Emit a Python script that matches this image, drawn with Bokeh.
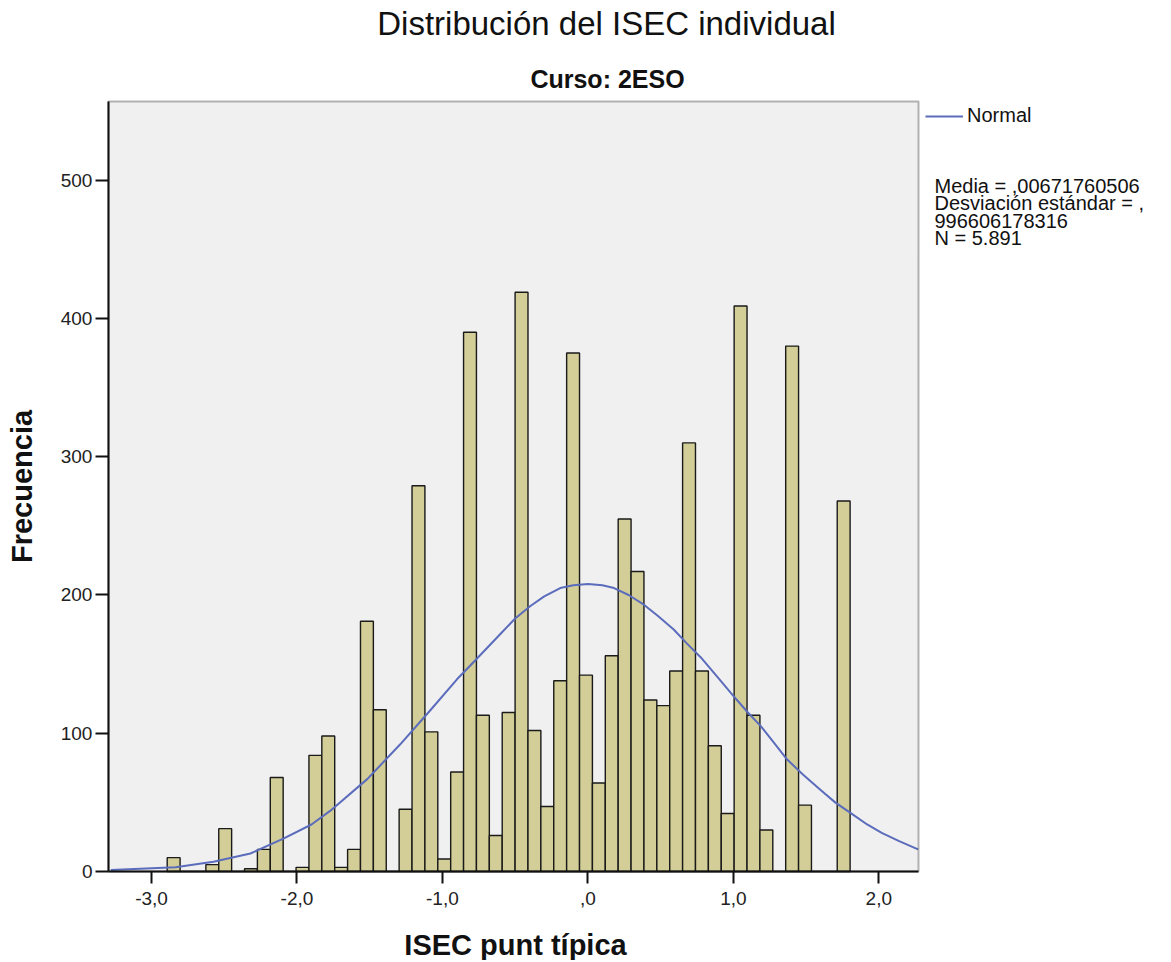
import numpy as np
from bokeh.plotting import figure
from bokeh.models import (Range1d, FixedTicker, Label, Legend, LegendItem,
                          BoxAnnotation)
from bokeh.embed import file_html
from bokeh.resources import INLINE

# ---------------- data ----------------
title_text = "Distribución del ISEC individual"
subtitle_text = "Curso: 2ESO"
x_label_text = "ISEC punt típica"
y_label_text = "Frecuencia"
legend_label = "Normal"
stats_lines = ["Media = ,00671760506",
               "Desviación estándar = ,",
               "996606178316",
               "N = 5.891"]

bin_start = -2.892
bin_width = 0.08858
counts = [10, 0, 0, 5, 31, 0, 2, 16, 68, 0,
          3, 84, 98, 3, 16, 181, 117, 0, 45, 279,
          101, 9, 72, 390, 113, 26, 115, 419, 102, 47,
          138, 375, 142, 64, 156, 255, 217, 124, 120, 145,
          310, 145, 91, 42, 409, 113, 30, 0, 380, 48,
          0, 0, 268]

curve_x = [-3.28, -2.835, -2.574, -2.32, -2.09, -1.9, -1.77, -1.515, -1.29,
           -1.08, -0.9, -0.79, -0.60, -0.5, -0.395, -0.3, -0.19, -0.1, 0.0,
           0.1, 0.18, 0.28, 0.385, 0.48, 0.59, 0.68, 0.775, 0.88, 1.0,
           1.1, 1.19, 1.28, 1.37, 1.48, 1.60, 1.7, 1.81, 1.92, 2.02, 2.14, 2.27]
curve_y = [1, 3, 7, 13, 24, 34, 44, 67, 92,
           117, 139, 151, 172, 183, 192, 199, 205, 207, 208,
           207, 205, 200, 193, 185, 175, 165, 155, 142, 127,
           115, 105, 93, 81, 70, 59, 50, 42, 34, 28, 22, 16]

x_ticks = [-3, -2, -1, 0, 1, 2]
x_tick_labels = ["-3,0", "-2,0", "-1,0", ",0", "1,0", "2,0"]
y_ticks = [0, 100, 200, 300, 400, 500]
y_tick_labels = ["0", "100", "200", "300", "400", "500"]

# plot area limits (data units)
AX0, AX1 = -3.296, 2.273
AY0, AY1 = 0.0, 556.9

# ---------------- layout helpers (page pixels -> data) ----------------
PX_PER_X = 145.46      # pixels per x unit
PX_PER_Y = 1.3826      # pixels per y unit
X_ORIGIN_PX = 151.0    # page x of value -3
Y_ORIGIN_PX = 871.0    # page y of value 0
W, H = 1168, 960       # canvas size
SHIFT = 0.4            # baseline correction, in em


def dx(px):
    return -3 + (px - X_ORIGIN_PX) / PX_PER_X


def dy(py):
    return (Y_ORIGIN_PX - py) / PX_PER_Y


FONT = "Liberation Sans"
INK = "#111111"

p = figure(width=W, height=H,
           x_range=Range1d(dx(0), dx(W)), y_range=Range1d(dy(H), dy(0)),
           output_backend="svg", toolbar_location=None, title=None, min_border=0)
p.background_fill_color = "white"
p.border_fill_color = "white"
p.outline_line_color = None
p.xgrid.visible = False
p.ygrid.visible = False

# plot area background and frame
p.add_layout(BoxAnnotation(left=AX0, right=AX1, bottom=AY0, top=AY1,
                           fill_color="#F0F0F0", fill_alpha=1.0,
                           line_color=None, level="underlay"))
p.add_layout(BoxAnnotation(left=AX0, right=AX1, bottom=AY0, top=AY1,
                           fill_alpha=0.0, line_color=INK, line_width=2,
                           level="annotation"))

for ax in (p.xaxis[0], p.yaxis[0]):
    ax.axis_line_color = INK
    ax.axis_line_width = 2
    ax.major_tick_line_color = INK
    ax.major_tick_line_width = 2
    ax.major_tick_in = 0
    ax.minor_tick_line_color = None
    ax.major_label_text_font = FONT
    ax.major_label_text_font_size = "19px"
    ax.major_label_text_color = "#222222"

p.xaxis.fixed_location = AY0
p.xaxis.bounds = (AX0, AX1)
p.xaxis.ticker = FixedTicker(ticks=x_ticks)
p.xaxis.major_label_overrides = {t: l for t, l in zip(x_ticks, x_tick_labels)}
p.xaxis.major_tick_out = 12
p.xaxis.major_label_standoff = 8

p.yaxis.fixed_location = AX0
p.yaxis.bounds = (AY0, AY1)
p.yaxis.ticker = FixedTicker(ticks=y_ticks)
p.yaxis.major_label_overrides = {t: l for t, l in zip(y_ticks, y_tick_labels)}
p.yaxis.major_tick_out = 13
p.yaxis.major_label_standoff = 3

# bars
lefts = bin_start + bin_width * np.arange(len(counts))
rights = lefts + bin_width
p.quad(left=lefts, right=rights, bottom=0, top=counts,
       fill_color="#D3CE97", line_color="#1a1a1a", line_width=1.4)

# normal curve
curve_r = p.line(curve_x, curve_y, line_color="#5B6CBC", line_width=2,
                 line_join="round")

# legend: glyph starts at page x 925, line on page y 114
legend = Legend(items=[LegendItem(label=legend_label, renderers=[curve_r])],
                location=(925, H - 116 - 11),
                glyph_width=38, glyph_height=22, label_height=22,
                padding=0, margin=0, spacing=0, label_standoff=4,
                background_fill_alpha=0, border_line_alpha=0,
                label_text_font=FONT, label_text_font_size="20px",
                label_text_color=INK)
p.add_layout(legend)


def text_label(px, py, text, size, bold=False, align="left", angle=0.0):
    # (px, py): page position of the text baseline
    if angle:
        px = px - SHIFT * size
    else:
        py = py - SHIFT * size
    p.add_layout(Label(x=dx(px), y=dy(py), text=text, text_align=align,
                       text_baseline="alphabetic", text_font=FONT,
                       text_font_size=f"{size}px", angle=angle,
                       text_font_style="bold" if bold else "normal",
                       text_color=INK))


text_label(606, 36, title_text, 33, align="center")
text_label(607, 88, subtitle_text, 25, bold=True, align="center")
text_label(515, 956, x_label_text, 29, bold=True, align="center")
text_label(33, 486, y_label_text, 29, bold=True, align="center", angle=np.pi / 2)

for i, line in enumerate(stats_lines):
    text_label(934, 193 + 17.6 * i, line, 20)

open("out.html", "w").write(file_html(p, INLINE))
